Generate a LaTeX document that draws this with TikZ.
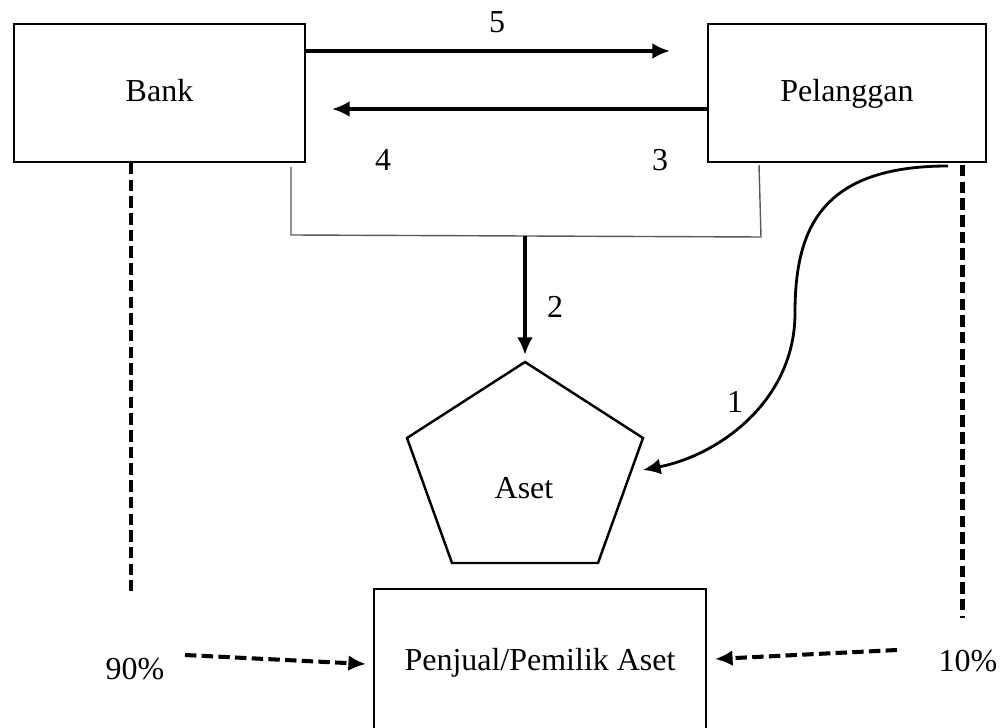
\documentclass[tikz,border=0pt]{standalone}
\usepackage{fontspec}
\setmainfont{Liberation Serif}
\usepackage{tikz}
\usetikzlibrary{arrows.meta}
\tikzset{>={Latex[length=10pt,width=9pt]}}
\colorlet{linkcol}{black!65}
\tikzstyle{box}=[draw,line width=1.5pt,text height=2.3ex,text depth=.25ex]
\tikzstyle{flow}=[->,line width=2.2pt]
\tikzstyle{link}=[linkcol,line width=0.8pt]
\tikzstyle{share}=[line width=2.3pt,dash pattern=on 6.5pt off 3pt]
\tikzstyle{num}=[inner sep=0]

\begin{document}
\begin{tikzpicture}[font=\fontsize{18.2}{21.8}\selectfont]
  \useasboundingbox (0,0) rectangle (20.04,-14.56);

  % BOXES
  \node[box,minimum width=5.82cm,minimum height=2.76cm] (bank) at (3.19,-1.86) {Bank};
  \node[box,minimum width=5.56cm,minimum height=2.76cm] (pelanggan) at (16.94,-1.86) {Pelanggan};
  \node[box,minimum width=6.64cm,minimum height=2.92cm] (penjual) at (10.8,-13.24) {Penjual/Pemilik Aset};

  % PENTAGON
  \coordinate (p1) at (10.5,-7.24);
  \coordinate (p2) at (12.86,-8.76);
  \coordinate (p3) at (11.96,-11.26);
  \coordinate (p4) at (9.04,-11.26);
  \coordinate (p5) at (8.14,-8.76);
  \draw[line width=1.4pt,line join=miter] (p1) -- (p2) -- (p3) -- (p4) -- (p5) -- cycle;
  \node (aset) at (10.48,-9.76) {Aset};

  % ARROWS 5 AND 4
  \coordinate (t5) at (13.4,-1.02);
  \coordinate (t4) at (6.64,-2.18);
  \draw[flow] (bank.east |- t5) -- (t5);
  \draw[flow] (pelanggan.west |- t4) -- (t4);
  \node[num] (n5) at (9.94,-0.45) {5};
  \node[num] (n4) at (7.66,-3.2) {4};
  \node[num] (n3) at (13.2,-3.2) {3};

  % LINK AND ARROW 2
  \coordinate (l1) at (5.82,-3.34);
  \coordinate (l2) at (5.82,-4.7);
  \coordinate (l3) at (15.22,-4.74);
  \coordinate (l4) at (15.18,-3.3);
  \coordinate (l0) at (10.5,-4.72);
  \coordinate (t2) at (10.5,-7.1);
  \draw[link] (l1) -- (l2) -- (l3) -- (l4);
  \draw[flow] (l0) -- (t2);
  \node[num] (n2) at (11.1,-6.14) {2};

  % ARROW 1
  \coordinate (c0) at (18.96,-3.32);
  \coordinate (c1) at (12.86,-9.4);
  \draw[->,line width=1.6pt] (c0) .. controls (16.4,-3.32) and (15.9,-4.6) .. (15.9,-6.26)
    .. controls (15.9,-8.0) and (14.4,-9.1) .. (c1);
  \node[num] (n1) at (14.7,-8.04) {1};

  % SHARES
  \coordinate (s90) at (7.32,-13.28);
  \coordinate (s10) at (14.3,-13.18);
  \draw[share] (2.62,-3.26) -- (2.62,-11.82);
  \draw[share] (19.25,-3.3) -- (19.25,-12.36);
  \node[num] (n90) at (2.7,-13.38) {90\%};
  \node[num] (n10) at (19.36,-13.22) {10\%};
  \draw[share,->] (3.7,-13.1) -- (s90);
  \draw[share,->] (17.94,-13.0) -- (s10);

\end{tikzpicture}
\end{document}
